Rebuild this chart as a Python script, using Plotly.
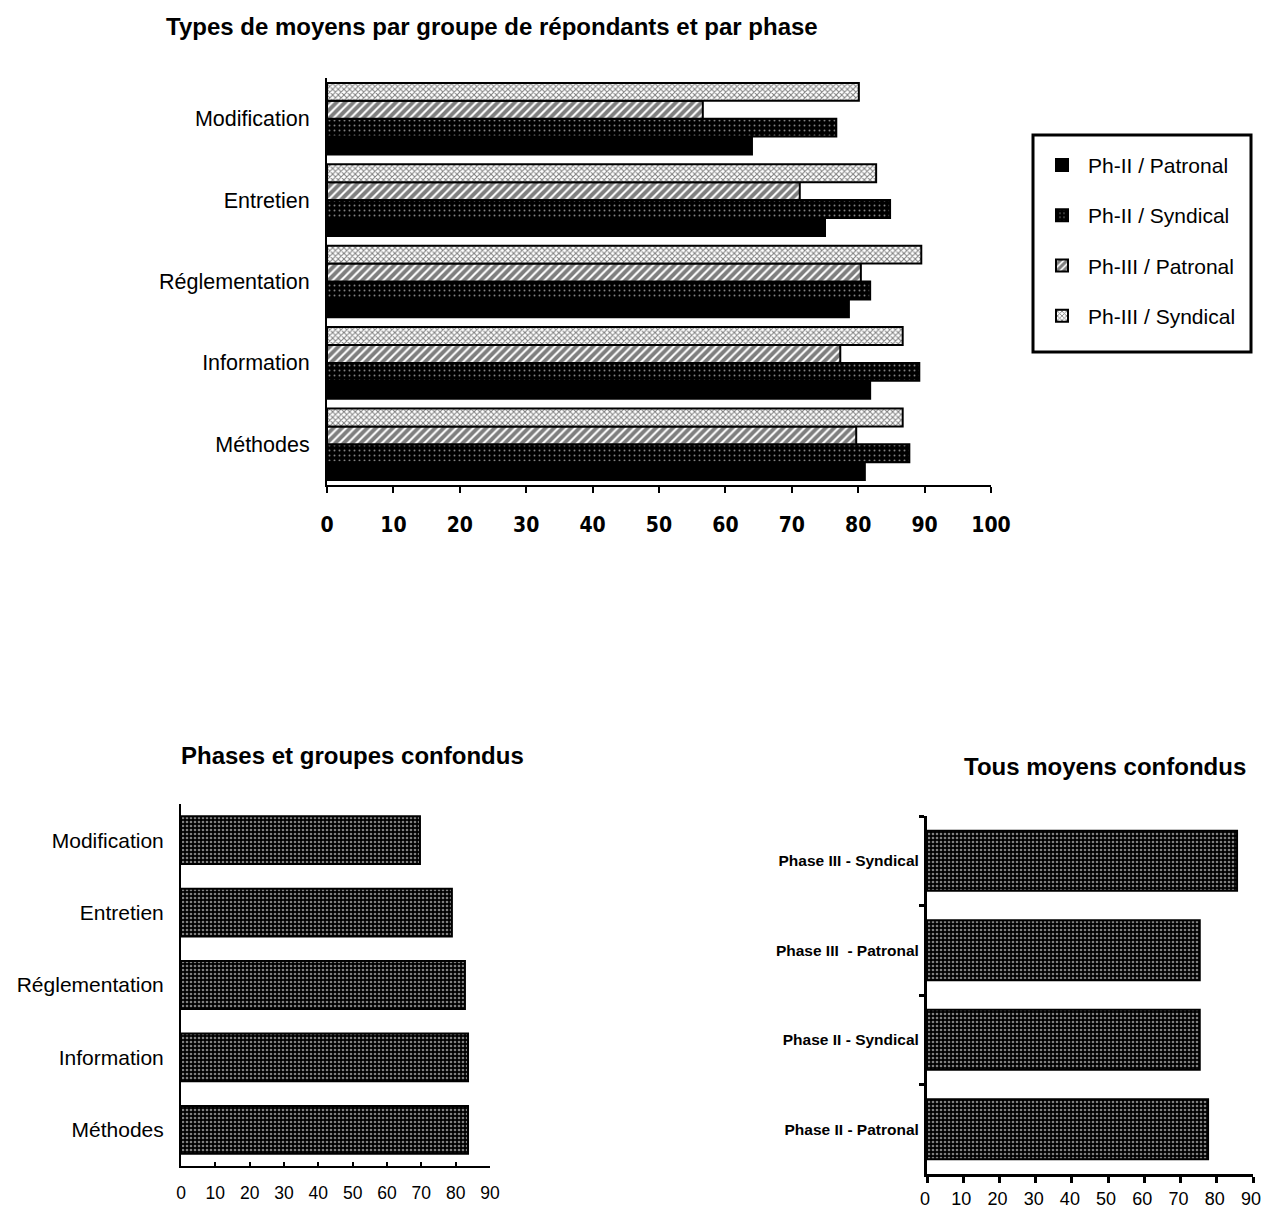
import plotly.graph_objects as go

# ---------------- data ----------------
categories = ["Modification", "Entretien", "Réglementation", "Information", "Méthodes"]
series_names = ["Ph-II / Patronal", "Ph-II / Syndical", "Ph-III / Patronal", "Ph-III / Syndical"]
ph2_patronal = [64.0, 75.0, 78.6, 81.8, 81.0]
ph2_syndical = [76.7, 84.8, 81.8, 89.2, 87.7]
ph3_patronal = [56.6, 71.2, 80.4, 77.3, 79.7]
ph3_syndical = [80.1, 82.7, 89.5, 86.7, 86.7]

combined_values = [69.6, 78.9, 82.7, 83.6, 83.6]

groups = ["Phase III - Syndical", "Phase III  - Patronal", "Phase II - Syndical", "Phase II - Patronal"]
group_values = [85.6, 75.3, 75.3, 77.6]

top_ticks = [0, 10, 20, 30, 40, 50, 60, 70, 80, 90, 100]
bottom_ticks = [0, 10, 20, 30, 40, 50, 60, 70, 80, 90]

W, H = 1266, 1209
def fx(px): return px / W
def fy(py): return 1 - py / H

FONT = "Liberation Sans, Arial, Helvetica, sans-serif"

patterns = [
    dict(shape="", bgcolor="black", fgcolor="black"),
    dict(shape=".", bgcolor="black", fgcolor="white", size=5, solidity=0.12),
    dict(shape="/", bgcolor="white", fgcolor="black", size=6, solidity=0.65),
    dict(shape="x", bgcolor="white", fgcolor="black", size=4, solidity=0.45),
]
series_vals = [ph2_patronal, ph2_syndical, ph3_patronal, ph3_syndical]

fig = go.Figure()
for i, (name, vals) in enumerate(zip(series_names, series_vals)):
    fig.add_trace(go.Bar(
        y=categories, x=vals, name=name, orientation="h",
        marker=dict(color="black", line=dict(color="black", width=2), pattern=patterns[i]),
        legendgroup=name, xaxis="x", yaxis="y",
    ))

dots = dict(shape=".", bgcolor="black", fgcolor="white", size=4, solidity=0.35)

fig.add_trace(go.Bar(
    y=categories, x=combined_values, orientation="h", showlegend=False, width=0.66,
    marker=dict(color="black", line=dict(color="black", width=2), pattern=dots),
    xaxis="x2", yaxis="y2",
))

fig.add_trace(go.Bar(
    y=groups, x=group_values, orientation="h", showlegend=False, width=0.67,
    marker=dict(color="black", line=dict(color="black", width=2), pattern=dots),
    xaxis="x3", yaxis="y3",
))

fig.update_layout(
    width=W, height=H, margin=dict(l=0, r=0, t=0, b=0, autoexpand=False), autosize=False,
    paper_bgcolor="white", plot_bgcolor="white",
    barmode="group", bargap=0.12, bargroupgap=0,
    font=dict(family=FONT, color="black"),
    showlegend=True,
    legend=dict(
        x=fx(1036), y=fy(137), xanchor="left", yanchor="top",
        borderwidth=0, bgcolor="rgba(0,0,0,0)",
        font=dict(family=FONT, size=21, color="black"),
        traceorder="grouped", tracegroupgap=20,
        itemsizing="constant", itemwidth=42,
        title=dict(text=" ", font=dict(size=6)),
    ),
    shapes=[
        dict(type="rect", xref="paper", yref="paper",
             x0=fx(1033), x1=fx(1251), y0=fy(352), y1=fy(135),
             line=dict(color="black", width=3), fillcolor="rgba(0,0,0,0)", layer="above"),
    ],
    xaxis=dict(
        domain=[fx(327), fx(991)], range=[0, 100], anchor="y", automargin=False,
        tickvals=top_ticks, ticktext=[str(t) for t in top_ticks],
        showgrid=False, zeroline=False, showline=True, linecolor="black", linewidth=2,
        ticks="outside", ticklen=6, tickwidth=2, tickcolor="black",
        tickfont=dict(family="DejaVu Sans Condensed, DejaVu Sans", size=21, weight="bold"),
        ticklabelstandoff=14,
    ),
    yaxis=dict(
        domain=[fy(485), fy(78)], anchor="x", automargin=False,
        categoryorder="array", categoryarray=categories[::-1],
        showgrid=False, zeroline=False, showline=True, linecolor="black", linewidth=2,
        ticks="", tickfont=dict(family=FONT, size=21.5), ticklabelstandoff=11,
    ),
    xaxis2=dict(
        domain=[fx(181), fx(490)], range=[0, 90], anchor="y2", automargin=False,
        tickvals=bottom_ticks, showgrid=False, zeroline=False,
        showline=True, linecolor="black", linewidth=2,
        ticks="inside", ticklen=4, tickwidth=2, tickcolor="black",
        tickfont=dict(family=FONT, size=17.5), ticklabelstandoff=10,
    ),
    yaxis2=dict(
        domain=[fy(1166), fy(804)], anchor="x2", automargin=False,
        categoryorder="array", categoryarray=categories[::-1],
        showgrid=False, zeroline=False, showline=True, linecolor="black", linewidth=2,
        ticks="", tickfont=dict(family=FONT, size=21), ticklabelstandoff=11,
    ),
    xaxis3=dict(
        domain=[fx(927), fx(1253)], range=[0, 90], anchor="y3", automargin=False,
        tickvals=bottom_ticks, showgrid=False, zeroline=False,
        showline=True, linecolor="black", linewidth=3,
        ticks="outside", ticklen=6, tickwidth=3, tickcolor="black",
        tickfont=dict(family=FONT, size=18), ticklabelstandoff=0, ticklabelshift=-2,
    ),
    yaxis3=dict(
        domain=[fy(1174), fy(816)], anchor="x3", automargin=False,
        categoryorder="array", categoryarray=groups[::-1],
        showgrid=False, zeroline=False, showline=True, linecolor="black", linewidth=3,
        ticks="outside", ticklen=5, tickwidth=3, tickcolor="black", tickson="boundaries",
        tickfont=dict(family=FONT, size=15.5, weight="bold"), ticklabelstandoff=2,
    ),
    annotations=[
        dict(text="<b>Types de moyens par groupe de répondants et par phase</b>",
             x=fx(492), y=fy(27), xref="paper", yref="paper", showarrow=False,
             xanchor="center", yanchor="middle",
             font=dict(family=FONT, size=24)),
        dict(text="<b>Phases et groupes confondus</b>",
             x=fx(352), y=fy(755), xref="paper", yref="paper", showarrow=False,
             xanchor="center", yanchor="middle",
             font=dict(family=FONT, size=24)),
        dict(text="<b>Tous moyens confondus</b>",
             x=fx(1105), y=fy(766), xref="paper", yref="paper", showarrow=False,
             xanchor="center", yanchor="middle",
             font=dict(family=FONT, size=24)),
    ],
)

fig.write_html("out.html", config={"displayModeBar": False},
               post_script="document.body.style.margin='0';")
